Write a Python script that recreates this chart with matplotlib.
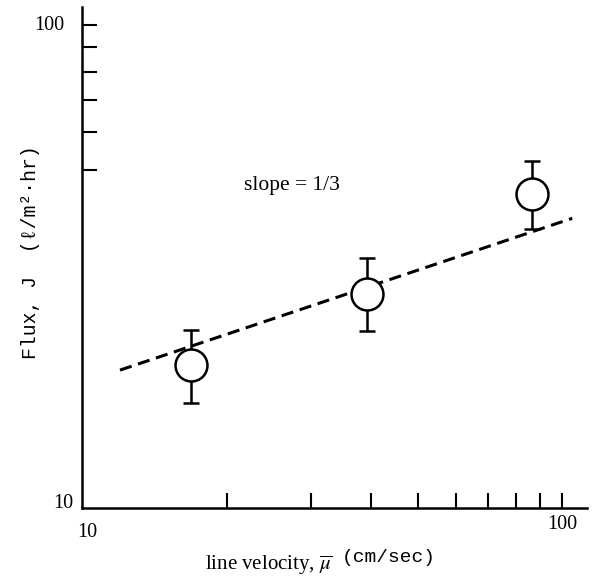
import matplotlib.pyplot as plt
from matplotlib.ticker import NullFormatter, NullLocator, FixedLocator

velocity = [16.9, 39.3, 86.5]
flux = [19.8, 27.7, 44.6]
flux_low = [16.5, 23.2, 37.9]
flux_high = [23.4, 33.0, 52.2]

# fitted line, slope 1/3 on log-log
fit_x = [12.0, 105.0]
fit_y = [19.3, 39.8]

x_ticks = [20, 30, 40, 50, 60, 70, 80, 90, 100]
y_ticks = [50, 60, 70, 80, 90, 100]

serif = ["Liberation Serif", "DejaVu Serif"]
mono = ["Liberation Mono", "DejaVu Sans Mono"]
plt.rcParams["font.family"] = serif
plt.rcParams["mathtext.fontset"] = "stix"

fig = plt.figure(figsize=(5.92, 5.80), dpi=100)
ax = fig.add_axes([82 / 592, 1 - 508 / 580, 505 / 592, 501 / 580])
ax.set_xscale("log")
ax.set_yscale("log")
ax.set_xlim(10, 112.7)
ax.set_ylim(10, 109)

ax.plot(fit_x, fit_y, ls=(0, (4, 2.2)), color="black", lw=2.2, zorder=2)

yerr = [[f - lo for f, lo in zip(flux, flux_low)],
        [hi - f for f, hi in zip(flux, flux_high)]]
ax.errorbar(velocity, flux, yerr=yerr, fmt="o", ms=23, mfc="white",
            mec="black", mew=1.8, ecolor="black", elinewidth=1.8,
            capsize=6, capthick=1.8, zorder=3)

ax.text(21.7, 46.6, "slope = 1/3", fontsize=15.5, va="center", ha="left")

for s in ["top", "right"]:
    ax.spines[s].set_visible(False)
for s in ["left", "bottom"]:
    ax.spines[s].set_linewidth(1.8)

ax.xaxis.set_major_locator(FixedLocator(x_ticks))
ax.xaxis.set_minor_locator(NullLocator())
ax.xaxis.set_major_formatter(NullFormatter())
ax.yaxis.set_major_locator(FixedLocator(y_ticks))
ax.yaxis.set_minor_locator(NullLocator())
ax.yaxis.set_major_formatter(NullFormatter())
ax.tick_params(direction="in", length=11, width=1.5)

# axis numbers placed as in the original
yt = ax.get_yaxis_transform()
xt = ax.get_xaxis_transform()
ax.text(-0.034, 100, "100", transform=yt, ha="right", va="center", fontsize=14.5)
ax.text(-0.018, 10.24, "10", transform=yt, ha="right", va="center", fontsize=14.5)
ax.text(10.24, -0.048, "10", transform=xt, ha="center", va="center", fontsize=14.5)
ax.text(100, -0.032, "100", transform=xt, ha="center", va="center", fontsize=14.5)

# axis titles
ax.text(0.495, -0.114, r"line velocity, $\overline{\mu}$", transform=ax.transAxes,
        ha="right", va="center", fontsize=15)
ax.text(0.515, -0.098, "(cm/sec)", transform=ax.transAxes, family=mono,
        ha="left", va="center", fontsize=14)
ax.text(-0.101, 0.51, "Flux, J  (ℓ/m²·hr)", transform=ax.transAxes, family=mono,
        rotation=90, ha="center", va="center", fontsize=14.2)

fig.savefig("out.png", dpi=100)
